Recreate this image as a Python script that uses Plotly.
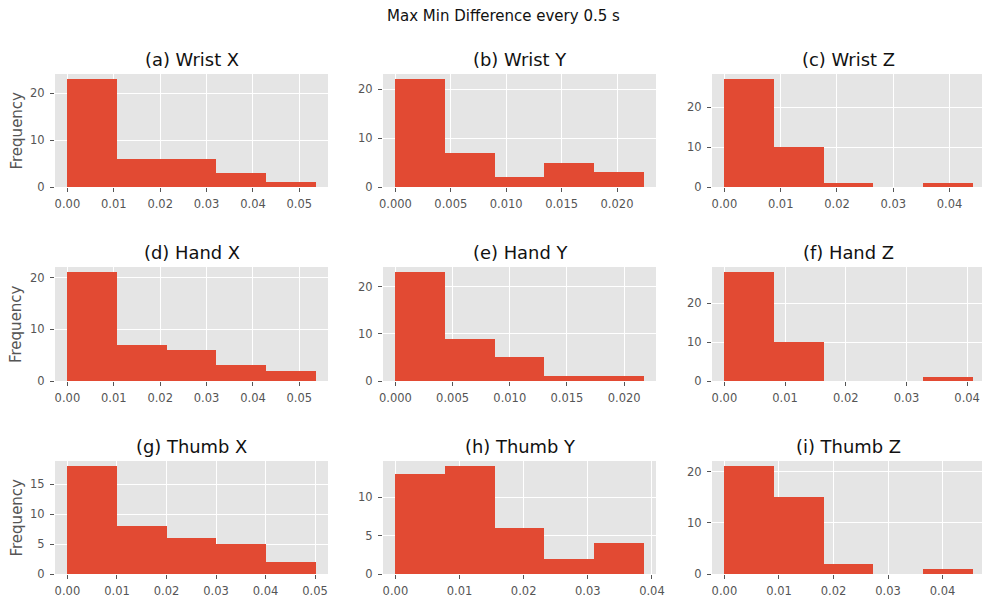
import numpy as np
import plotly.graph_objects as go

# ---- data ----
titles = ["(a) Wrist X", "(b) Wrist Y", "(c) Wrist Z",
          "(d) Hand X", "(e) Hand Y", "(f) Hand Z",
          "(g) Thumb X", "(h) Thumb Y", "(i) Thumb Z"]
# upper edge of the histogram range (lower edge is 0)
x_max = [0.0535, 0.0224, 0.0441,
         0.0535, 0.0217, 0.0409,
         0.0501, 0.0387, 0.0455]
counts_wrist_x = [23, 6, 6, 3, 1]
counts_wrist_y = [22, 7, 2, 5, 3]
counts_wrist_z = [27, 10, 1, 0, 1]
counts_hand_x = [21, 7, 6, 3, 2]
counts_hand_y = [23, 9, 5, 1, 1]
counts_hand_z = [28, 10, 0, 0, 1]
counts_thumb_x = [18, 8, 6, 5, 2]
counts_thumb_y = [13, 14, 6, 2, 4]
counts_thumb_z = [21, 15, 2, 0, 1]
all_counts = [counts_wrist_x, counts_wrist_y, counts_wrist_z,
              counts_hand_x, counts_hand_y, counts_hand_z,
              counts_thumb_x, counts_thumb_y, counts_thumb_z]
x_dtick = [0.01, 0.005, 0.01, 0.01, 0.005, 0.01, 0.01, 0.01, 0.01]
x_fmt = [".2f", ".3f", ".2f", ".2f", ".3f", ".2f", ".2f", ".2f", ".2f"]
y_dtick = [10, 10, 10, 10, 10, 10, 5, 5, 10]
suptitle = "Max Min Difference every 0.5 s"
ylabel = "Frequency"

# ---- layout geometry (pixels in the page; body margin removed below) ----
W, H = 982, 597
col_px = [(55, 328), (383, 656), (712, 982)]
full_w = 273
row_px = [(74, 187), (267, 381), (461, 574)]

FONT = "DejaVu Sans"
BAR = "#E24A33"
BG = "#E5E5E5"
TICK = "#555555"


def px(v):
    return v / W


def py(v):
    return 1 - v / H


fig = go.Figure()
annotations = []
layout_axes = {}
for i in range(9):
    r, c = divmod(i, 3)
    k = "" if i == 0 else str(i + 1)
    counts = all_counts[i]
    edges = np.linspace(0, x_max[i], len(counts) + 1)
    centers = (edges[:-1] + edges[1:]) / 2
    widths = np.diff(edges)
    fig.add_trace(go.Bar(x=centers, y=counts, width=widths,
                         marker=dict(color=BAR, line=dict(width=0)),
                         xaxis="x" + k, yaxis="y" + k,
                         hoverinfo="skip", showlegend=False))
    x0, x1 = col_px[c]
    y0, y1 = row_px[r]
    span = 1.1 * x_max[i]
    lo = -0.05 * x_max[i]
    hi = lo + span * (x1 - x0) / full_w
    layout_axes["xaxis" + k] = dict(
        domain=[px(x0), min(1.0, px(x1))], anchor="y" + k, range=[lo, hi],
        dtick=x_dtick[i], tick0=0, tickformat=x_fmt[i], automargin=False,
        showgrid=True, gridcolor="white", gridwidth=1, zeroline=False,
        ticks="outside", ticklen=4, tickcolor=TICK, tickwidth=1,
        ticklabelstandoff=2, ticklabeloverflow="allow",
        tickfont=dict(family=FONT, size=11.5, color=TICK), showline=False)
    layout_axes["yaxis" + k] = dict(
        domain=[py(y1), py(y0)], anchor="x" + k, automargin=False,
        range=[0, 1.05 * max(counts)], dtick=y_dtick[i], tick0=0,
        showgrid=True, gridcolor="white", gridwidth=1, zeroline=False,
        ticks="outside", ticklen=4, tickcolor=TICK, tickwidth=1,
        ticklabelstandoff=3,
        tickfont=dict(family=FONT, size=11.5, color=TICK), showline=False)
    annotations.append(dict(
        text=titles[i], x=px(x0 + full_w / 2), y=py(y0),
        xref="paper", yref="paper", xanchor="center", yanchor="bottom",
        yshift=2, showarrow=False,
        font=dict(family=FONT, size=17.9, color="#111111")))
    if c == 0:
        annotations.append(dict(
            text=ylabel, x=px(16), y=py((y0 + y1) / 2),
            xref="paper", yref="paper", xanchor="center", yanchor="middle",
            textangle=-90, showarrow=False,
            font=dict(family=FONT, size=15, color=TICK)))

annotations.append(dict(
    text=suptitle, x=px(503), y=py(16), xref="paper", yref="paper",
    xanchor="center", yanchor="middle", showarrow=False,
    font=dict(family=FONT, size=15, color="#111111")))

fig.update_layout(
    width=W, height=H, margin=dict(l=0, r=0, t=0, b=0, pad=0),
    paper_bgcolor="white", plot_bgcolor=BG,
    annotations=annotations, bargap=0, **layout_axes)

fig.write_html("out.html",
               config={"displayModeBar": False, "staticPlot": True},
               post_script="document.body.style.margin='0';"
                           "document.body.style.overflow='hidden';")
